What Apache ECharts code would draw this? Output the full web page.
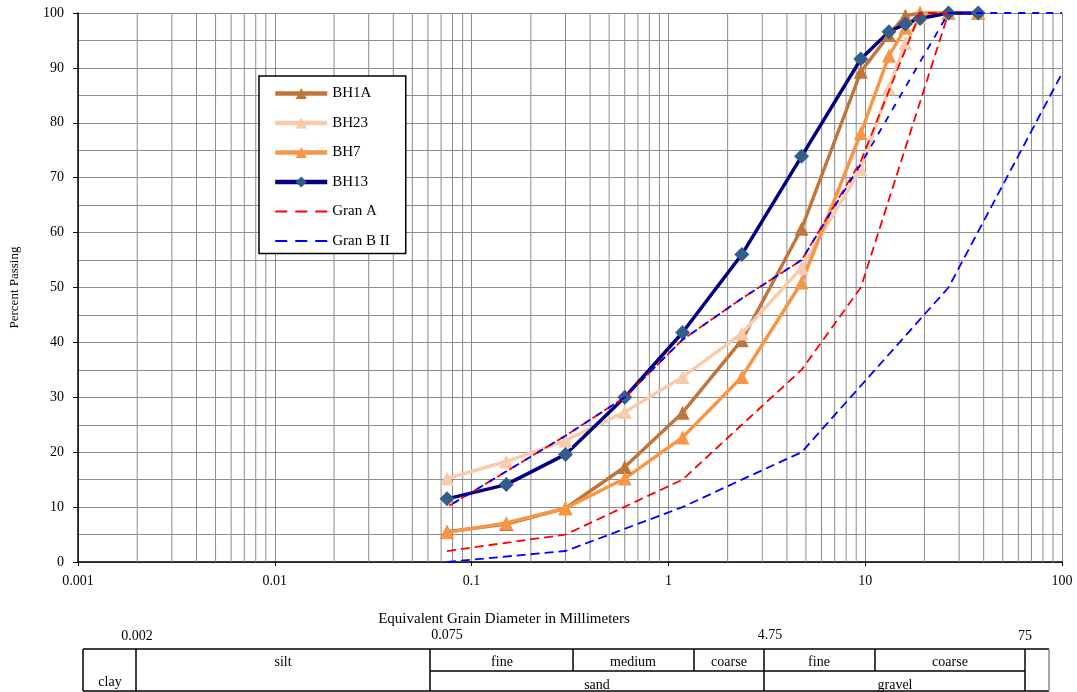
<!DOCTYPE html>
<html>
<head>
<meta charset="utf-8">
<script src="https://cdn.jsdelivr.net/npm/echarts@6/dist/echarts.min.js"></script>
<style>
html,body{margin:0;padding:0;background:#fff;}
#chart{width:1077px;height:692px;}
</style>
</head>
<body>
<div id="chart"></div>
<script>
// ---- Data ----
const sieveSizes = [0.075, 0.15, 0.3, 0.6, 1.18, 2.36, 4.75, 9.5, 13.2, 16, 19, 26.5, 37.5];
const bh1a = [5.5, 6.9, 9.8, 17.3, 27.2, 40.4, 60.7, 89.3, 96.0, 99.5, 100, 100, 100];
const bh23 = [15.2, 18.3, 22.1, 27.3, 33.7, 41.6, 53.6, 71.6, 86.3, 94.5, 99.2, 100, 100];
const bh7  = [5.4, 7.1, 9.8, 15.2, 22.7, 33.7, 50.9, 78.1, 92.2, 97.3, 100, 100, 100];
const bh13 = [11.5, 14.1, 19.6, 30.0, 41.8, 56.0, 73.9, 91.6, 96.6, 98.0, 99.0, 100, 100];

// Gran A envelope (lower limit, then upper limit traced back)
const granAX = [0.075, 0.3, 1.18, 2.36, 4.75, 9.5, 26.5, 19, 9.5, 4.75, 2.36, 1.18, 0.6, 0.3, 0.075];
const granAY = [2, 5, 15, 25, 35, 50, 100, 100, 73, 55, 48, 40.5, 30, 23, 10];
// Gran B II envelope
const granBLowerX = [0.075, 0.3, 1.18, 2.36, 4.75, 26.5, 100];
const granBLowerY = [0, 2, 10, 15, 20, 50, 89];
const granBUpperX = [0.075, 0.3, 0.6, 1.18, 2.36, 4.75, 9.5, 26.5, 100];
const granBUpperY = [10, 23, 30, 40.5, 48, 55, 72.5, 100, 100];

const legendNames = ['BH1A', 'BH23', 'BH7', 'BH13', 'Gran A', 'Gran B II'];
const xAxisTitle = 'Equivalent Grain Diameter in Millimeters';
const yAxisTitle = 'Percent Passing';
const boundaryLabels = ['0.002', '0.075', '4.75', '75'];
const topRowLabels = ['silt', 'fine', 'medium', 'coarse', 'fine', 'coarse'];
const bottomRowLabels = ['clay', 'sand', 'gravel'];

// minor vertical grid lines (2..9 within each decade)
const decades = [0.001, 0.01, 0.1, 1, 10];
const minorGridX = [];
decades.forEach(d => { for (let k = 2; k <= 9; k++) minorGridX.push(+(k * d).toPrecision(3)); });
const minorGridData = [];
minorGridX.forEach(v => { minorGridData.push([v, 0], [v, 100], [v, '-']); });

const zip = (xs, ys) => xs.map((x, i) => [x, ys[i]]);

const FONT = '"Liberation Serif", "DejaVu Serif", serif';

const chart = echarts.init(document.getElementById('chart'), null, {renderer: 'canvas'});

function bhSeries(name, values, color, symbol, symbolColor) {
  return {
    name, type: 'line', data: zip(sieveSizes, values),
    symbol, symbolSize: symbol === 'diamond' ? 15 : 14,
    lineStyle: {color, width: 3.5},
    itemStyle: {color: symbolColor || color},
    z: 3, animation: false
  };
}

// table geometry (decorative classification table below chart)
const tTop = 649, tMid = 671, tBot = 691;
const cols = {left: 83, clay: 136, silt: 430, fineS: 573, medS: 694, coarseS: 764, fineG: 875, coarseG: 1025, right: 1049};
const L = (x1, y1, x2, y2, color, w) => ({type: 'line', shape: {x1, y1, x2, y2}, style: {stroke: color || '#000', lineWidth: w || 1.5}, silent: true});
const T = (x, y, text, size) => ({type: 'text', x, y, style: {text, fill: '#000', font: (size || 14) + 'px ' + FONT, textAlign: 'center', textVerticalAlign: 'middle'}, silent: true});

const graphics = [
  T(504, 619, xAxisTitle, 15),
  T(137, 636, boundaryLabels[0]), T(447, 635, boundaryLabels[1]), T(770, 635, boundaryLabels[2]), T(1025, 636, boundaryLabels[3]),
  L(cols.left, tTop, cols.right, tTop),
  L(cols.left, tBot, cols.right, tBot),
  L(cols.left, tTop, cols.left, tBot),
  L(cols.right, tTop, cols.right, tBot, '#888', 1.5),
  L(cols.clay, tTop, cols.clay, tBot),
  L(cols.silt, tTop, cols.silt, tBot),
  L(cols.silt, tMid, cols.coarseG, tMid),
  L(cols.fineS, tTop, cols.fineS, tMid),
  L(cols.medS, tTop, cols.medS, tMid),
  L(cols.coarseS, tTop, cols.coarseS, tBot),
  L(cols.fineG, tTop, cols.fineG, tMid),
  L(cols.coarseG, tTop, cols.coarseG, tBot),
  T(283, 662, topRowLabels[0]), T(502, 662, topRowLabels[1]), T(633, 662, topRowLabels[2]),
  T(729, 662, topRowLabels[3]), T(819, 662, topRowLabels[4]), T(950, 662, topRowLabels[5]),
  T(110, 682, bottomRowLabels[0]), T(597, 685, bottomRowLabels[1]), T(895, 685, bottomRowLabels[2])
];

const option = {
  backgroundColor: '#fff',
  animation: false,
  textStyle: {fontFamily: FONT},
  grid: {left: 78, right: 15, top: 13, bottom: 130},
  legend: {
    data: legendNames.map(n => (n.indexOf('Gran') === 0
      ? {name: n, itemStyle: {opacity: 0}, lineStyle: {width: 1.8, type: [12, 8]}}
      : {name: n, lineStyle: {width: 4.5}})),
    orient: 'vertical', left: 259, top: 76,
    itemWidth: 52, itemHeight: 14, itemGap: 14.5,
    padding: [10, 16, 5, 14],
    borderColor: '#000', borderWidth: 1.5, backgroundColor: '#fff',
    textStyle: {fontFamily: FONT, fontSize: 15, color: '#000'},
    selectedMode: false
  },
  xAxis: {
    type: 'log', logBase: 10, min: 0.001, max: 100,
    axisLine: {show: true, onZero: false, lineStyle: {color: '#000', width: 1.5}},
    axisTick: {show: true, length: 4, lineStyle: {color: '#000'}},
    axisLabel: {fontFamily: FONT, fontSize: 14, color: '#000', margin: 12,
      formatter: v => String(+v.toPrecision(3))},
    splitLine: {show: true, lineStyle: {color: '#8c8c8c', width: 1}}
  },
  yAxis: {
    type: 'value', min: 0, max: 100, interval: 10,
    name: yAxisTitle, nameLocation: 'middle', nameGap: 57,
    nameTextStyle: {fontFamily: FONT, fontSize: 13, color: '#000'},
    axisLine: {show: true, lineStyle: {color: '#000', width: 1.5}},
    axisTick: {show: true, length: 5, lineStyle: {color: '#000'}},
    axisLabel: {fontFamily: FONT, fontSize: 14, color: '#000', margin: 14},
    splitLine: {show: true, lineStyle: {color: '#8c8c8c', width: 1}},
    minorTick: {show: false, splitNumber: 2},
    minorSplitLine: {show: true, lineStyle: {color: '#8c8c8c', width: 1}}
  },
  graphic: graphics,
  series: [
    {
      name: 'grid', type: 'line', data: minorGridData, silent: true, z: 1,
      symbol: 'none', connectNulls: false,
      lineStyle: {color: '#8c8c8c', width: 1},
      emphasis: {disabled: true}
    },
    bhSeries('BH1A', bh1a, '#C0763A', 'triangle'),
    bhSeries('BH23', bh23, '#F8CBAD', 'triangle'),
    bhSeries('BH7', bh7, '#F79646', 'triangle'),
    bhSeries('BH13', bh13, '#000080', 'diamond', '#335E89'),
    {
      name: 'Gran A', type: 'line', data: zip(granAX, granAY), symbol: 'none',
      lineStyle: {color: '#FF0000', width: 1.8, type: [9, 5]}, itemStyle: {color: '#FF0000'}, z: 4
    },
    {
      name: 'Gran B II', type: 'line', data: zip(granBLowerX, granBLowerY), symbol: 'none',
      lineStyle: {color: '#0000FF', width: 1.8, type: [9, 5]}, itemStyle: {color: '#0000FF'}, z: 4
    },
    {
      name: 'Gran B II', type: 'line', data: zip(granBUpperX, granBUpperY), symbol: 'none',
      lineStyle: {color: '#0000FF', width: 1.8, type: [7, 7], dashOffset: 7}, itemStyle: {color: '#0000FF'}, z: 4
    }
  ]
};
chart.setOption(option);
</script>
</body>
</html>
